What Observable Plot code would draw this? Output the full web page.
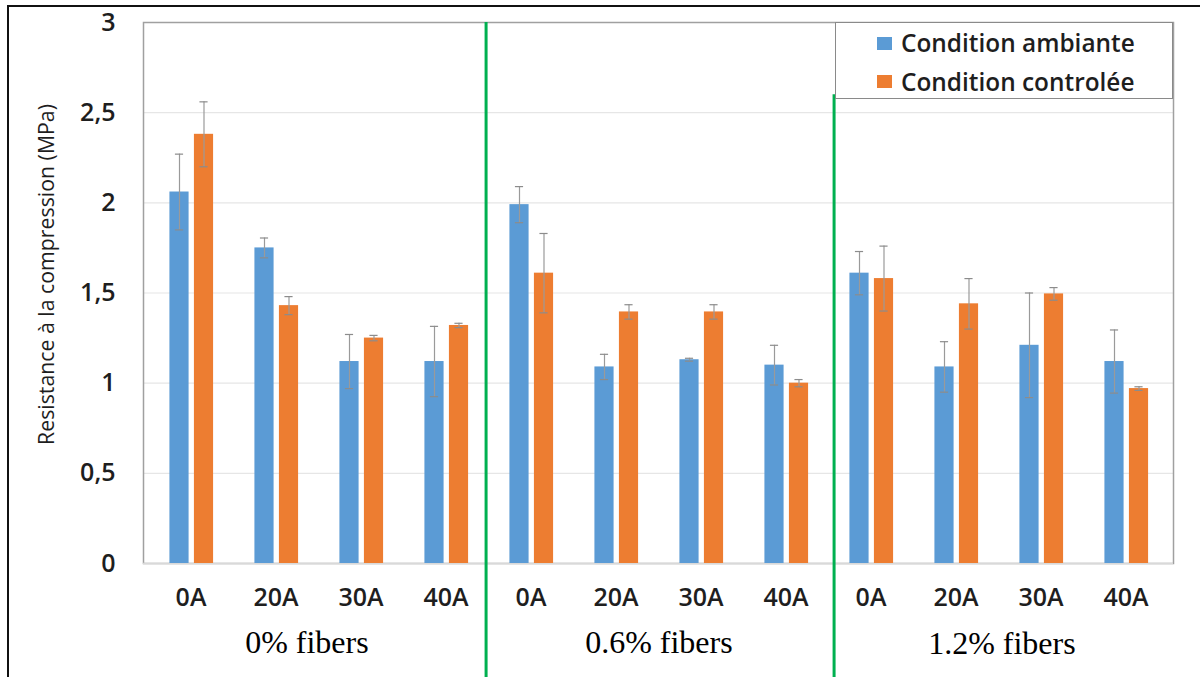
<!DOCTYPE html>
<html>
<head>
<meta charset="utf-8">
<script src="https://cdn.jsdelivr.net/npm/d3@7"></script>
<script src="https://cdn.jsdelivr.net/npm/@observablehq/plot@0.6"></script>
<style>
  html, body { margin: 0; padding: 0; background: #fff; overflow: hidden; }
  #wrap { position: relative; width: 1200px; height: 677px; overflow: hidden; }
  #border { position: absolute; left: 7px; top: 5px; width: 1300px; height: 800px;
            border-left: 2px solid #111; border-top: 2px solid #111; pointer-events: none; }
  #legend { position: absolute; left: 835px; top: 22px; width: 338px; height: 77px;
            border: 1.5px solid #8a8a8a; background: #fff; box-sizing: border-box;
            font-family: "Open Sans", sans-serif; font-weight: 600; font-size: 24.4px; color: #1e1e1e; }
  .row { position: absolute; left: 41px; display: flex; align-items: center; white-space: nowrap; line-height: 30px; }
  .sw { width: 15px; height: 13px; margin-right: 9px; }
</style>
</head>
<body>
<div id="wrap">
  <div id="chart"></div>
  <div id="legend"></div>
  <div id="border"></div>
</div>
<script>
// ---- data ----
const groups = ["0% fibers", "0.6% fibers", "1.2% fibers"];
const categories = ["0A", "20A", "30A", "40A"];
const seriesNames = ["Condition ambiante", "Condition controlée"];
const seriesColors = ["#5b9bd5", "#ed7d31"];
const ambiante    = [2.06, 1.75, 1.12, 1.12,  1.99, 1.09, 1.13, 1.10,  1.61, 1.09, 1.21, 1.12];
const ambianteErr = [0.21, 0.055, 0.15, 0.195, 0.10, 0.07, 0.008, 0.11, 0.12, 0.14, 0.29, 0.175];
const controlee    = [2.38, 1.43, 1.25, 1.32,  1.61, 1.395, 1.395, 1.00, 1.58, 1.44, 1.495, 0.97];
const controleeErr = [0.18, 0.05, 0.015, 0.012, 0.22, 0.04, 0.04, 0.02, 0.18, 0.14, 0.035, 0.01];
const yTicks = [0, 0.5, 1, 1.5, 2, 2.5, 3];
const yLabel = "Resistance à la compression (MPa)";
const separators = [{group: "0.6% fibers", from: 3}, {group: "1.2% fibers", from: 2.6}];

// ---- build table ----
const keys = [];
const rows = [];
groups.forEach((g, gi) => categories.forEach((c, ci) => {
  const k = g + "|" + c;
  keys.push(k);
  const i = gi * categories.length + ci;
  rows.push({key: k, series: 0, value: ambiante[i], err: ambianteErr[i]});
  rows.push({key: k, series: 1, value: controlee[i], err: controleeErr[i]});
}));

const W = 1200, H = 677, mL = 143, mR = 27, mT = 22, mB = 114;
const bw = (W - mL - mR) / keys.length;
const barW = 20;
const centerOff = [-11.5, 13];
const inset = s => ({
  insetLeft: bw / 2 + centerOff[s] - barW / 2,
  insetRight: bw / 2 - centerOff[s] - barW / 2
});
const capW = 9;
const groupShift = [-12, 0, 3];
const sepShift = [-2, 6];

const marks = [
  Plot.gridY(yTicks, {stroke: "#e6e6e6", strokeOpacity: 1, strokeWidth: 1.2}),
  Plot.frame({stroke: "#a0a0a0", strokeWidth: 1.5}),
  Plot.ruleY([0], {stroke: "#d9d9d9", strokeWidth: 1.6})
];
[0, 1].forEach(s => {
  const d = rows.filter(r => r.series === s);
  marks.push(Plot.barY(d, {x: "key", y: "value", fill: seriesColors[s], ...inset(s)}));
  marks.push(Plot.ruleX(d, {x: "key", y1: r => r.value - r.err, y2: r => r.value + r.err,
    dx: centerOff[s], stroke: "#9a9a9a", strokeWidth: 1.2}));
  marks.push(Plot.tickY(d, {x: "key", y: r => r.value + r.err, dx: centerOff[s],
    insetLeft: (bw - capW) / 2, insetRight: (bw - capW) / 2, stroke: "#8c8c8c", strokeWidth: 1.2}));
  marks.push(Plot.tickY(d, {x: "key", y: r => r.value - r.err, dx: centerOff[s],
    insetLeft: (bw - capW) / 2, insetRight: (bw - capW) / 2, stroke: "#8c8c8c", strokeWidth: 1.2}));
});
marks.push(
  Plot.axisY({ticks: yTicks, tickSize: 0, tickPadding: 28, fontSize: 25, fontWeight: 600,
    tickFormat: d => String(d).replace(".", ","), label: null, fill: "#1e1e1e"}),
  Plot.axisX({tickSize: 0, tickPadding: 25, fontSize: 25, fontWeight: 600,
    tickFormat: k => k.split("|")[1], label: null, fill: "#1e1e1e"}),
  Plot.text([yLabel], {text: d => d, frameAnchor: "left", textAnchor: "middle", rotate: -90,
    dx: -96, dy: -18.5, fontSize: 21.3, fontFamily: "Open Sans", fill: "#1e1e1e"}),
  ...groups.map((g, gi) => Plot.text([g], {x: d => d + "|" + categories[1], text: d => d,
    dx: bw / 2 + groupShift[gi], frameAnchor: "bottom", dy: 89 + (gi === 2 ? 1.5 : 0),
    lineAnchor: "bottom", fontSize: 32, fontFamily: "Liberation Serif", fill: "#000"})),
  ...separators.map((s, si) => Plot.ruleX([s], {x: d => d.group + "|" + categories[0],
    dx: -bw / 2 + sepShift[si], y1: "from", y2: -0.8,
    stroke: "#00b050", strokeWidth: 3, clip: false}))
);

const chart = Plot.plot({
  width: W, height: H,
  marginLeft: mL, marginRight: mR, marginTop: mT, marginBottom: mB,
  style: {fontFamily: "Open Sans", background: "#fff"},
  x: {domain: keys, padding: 0, axis: null},
  y: {domain: [0, 3], axis: null},
  marks
});
document.getElementById("chart").appendChild(chart);

// legend
const leg = document.getElementById("legend");
seriesNames.forEach((n, i) => {
  const row = document.createElement("div");
  row.className = "row";
  row.style.top = (i === 0 ? 5 : 43.5) + "px";
  row.innerHTML = `<span class="sw" style="background:${seriesColors[i]}"></span><span>${n}</span>`;
  leg.appendChild(row);
});
</script>
</body>
</html>
